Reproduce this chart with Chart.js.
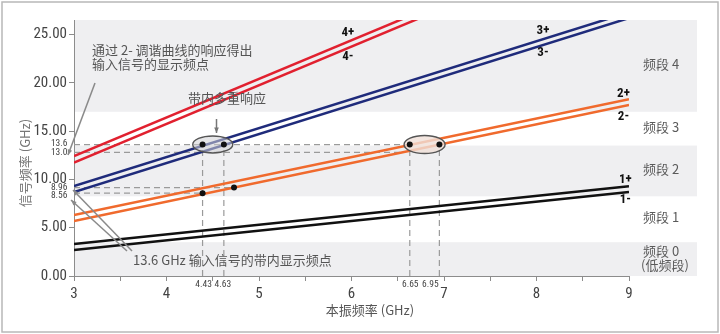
<!DOCTYPE html>
<html>
<head>
<meta charset="utf-8">
<script src="https://cdn.jsdelivr.net/npm/chart.js@4/dist/chart.umd.min.js"></script>
<style>
  html, body { margin: 0; padding: 0; background: #fff; }
  #wrap { width: 720px; height: 334px; }
</style>
</head>
<body>
<div id="wrap"><canvas id="tuneChart" width="720" height="334"></canvas></div>
<script>
// LO range (GHz) and tuning curve values at both ends
const loStart = 3;
const loEnd = 9;
const curveLabels = ["1+", "1-", "2+", "2-", "3+", "3-", "4+", "4-"];
const curveAtStart = [3.3, 2.7, 6.3, 5.7, 9.3, 8.7, 12.4, 11.75];
const curveAtEnd = [9.3, 8.7, 18.3, 17.7, 27.3, 26.7, 36.4, 35.75];
const curveColors = ["#111111", "#111111", "#f06a2d", "#f06a2d", "#1f2b7b", "#1f2b7b", "#e1202f", "#e1202f"];

// frequency bands (GHz)
const bandNames = ["频段 0", "频段 1", "频段 2", "频段 3", "频段 4"];
const bandLow = [0, 3.5, 8.25, 13.5, 17];
const bandHigh = [3.5, 8.25, 13.5, 17, 26.5];
const bandShaded = [true, false, true, false, true];

// marked responses
const dotX = [4.39, 4.62, 4.39, 4.73, 6.63, 6.95];
const dotY = [13.6, 13.6, 8.57, 9.15, 13.6, 13.6];

// dashed guide lines
const guideY = [13.6, 12.8, 9.15, 8.57];
const guideYEnd = [6.63, 6.55, 4.73, 4.39];
const guideYText = ["13.6", "13.0", "8.96", "8.56"];
const guideX = [4.39, 4.62, 6.63, 6.95];
const guideXTop = 13.6;
const guideXText = ["4.43", "4.63", "6.65", "6.95"];

const yTicks = [0, 5, 10, 15, 20, 25];

const NUM = "'Liberation Sans Narrow', 'Roboto Condensed', Roboto, sans-serif";
const CJK = "'Noto Sans CJK SC', sans-serif";

//#region datasets
const datasets = [];

// dots on top (lowest order)
datasets.push({
  data: dotX.map((x, i) => ({ x: x, y: dotY[i] })),
  showLine: false,
  pointRadius: 3,
  pointBackgroundColor: "#111",
  pointBorderWidth: 0,
  order: 0
});

curveLabels.forEach((name, i) => {
  datasets.push({
    label: name,
    data: [{ x: loStart, y: curveAtStart[i] }, { x: loEnd, y: curveAtEnd[i] }],
    showLine: true,
    borderColor: curveColors[i],
    borderWidth: 2.5,
    pointRadius: 0,
    order: 1
  });
});

const dashStyle = { showLine: true, borderColor: "#9a9a9a", borderWidth: 1.2, borderDash: [6, 4], pointRadius: 0, order: 2 };
guideY.forEach((v, i) => {
  datasets.push(Object.assign({ data: [{ x: loStart, y: v }, { x: guideYEnd[i], y: v }] }, dashStyle));
});
guideX.forEach((v) => {
  datasets.push(Object.assign({ data: [{ x: v, y: 0 }, { x: v, y: guideXTop }] }, dashStyle));
});
//#endregion

function arrow(ctx, x1, y1, x2, y2, size) {
  ctx.beginPath();
  ctx.moveTo(x1, y1);
  ctx.lineTo(x2, y2);
  ctx.stroke();
  const ang = Math.atan2(y2 - y1, x2 - x1);
  ctx.beginPath();
  ctx.moveTo(x2, y2);
  ctx.lineTo(x2 - size * Math.cos(ang - 0.4), y2 - size * Math.sin(ang - 0.4));
  ctx.lineTo(x2 - size * Math.cos(ang + 0.4), y2 - size * Math.sin(ang + 0.4));
  ctx.closePath();
  ctx.fill();
}

//#region plugin: bands, ellipses, texts
const annotate = {
  id: "annotate",
  beforeDraw(chart) {
    const { ctx, chartArea: a, scales: { y } } = chart;
    ctx.save();
    ctx.fillStyle = "#fff";
    ctx.fillRect(0, 0, chart.width, chart.height);
    ctx.fillStyle = "#efeff1";
    bandLow.forEach((lo, i) => {
      if (!bandShaded[i]) return;
      const top = y.getPixelForValue(bandHigh[i]);
      const bot = y.getPixelForValue(lo);
      ctx.fillRect(a.left, top, 697 - a.left, bot - top);
    });
    ctx.strokeStyle = "#b8b8b8";
    ctx.lineWidth = 1.5;
    ctx.strokeRect(2, 2, chart.width - 4, chart.height - 4);
    ctx.restore();
  },
  beforeDatasetDraw(chart, args) {
    if (args.index !== 0) return;
    const { ctx, scales: { x, y } } = chart;
    ctx.save();
    const ells = [
      { cx: x.getPixelForValue(4.5), cy: y.getPixelForValue(13.62), rx: 20, ry: 8.5, fill: "rgba(210,210,214,0.55)" },
      { cx: x.getPixelForValue(6.79), cy: y.getPixelForValue(13.62), rx: 20.5, ry: 9, fill: "rgba(240,224,216,0.8)" }
    ];
    ells.forEach((e) => {
      ctx.beginPath();
      ctx.ellipse(e.cx, e.cy, e.rx, e.ry, 0, 0, Math.PI * 2);
      ctx.fillStyle = e.fill;
      ctx.fill();
      ctx.strokeStyle = "#555";
      ctx.lineWidth = 1.4;
      ctx.stroke();
    });
    ctx.restore();
  },
  afterDraw(chart) {
    const { ctx, chartArea: a, scales: { x, y } } = chart;
    ctx.save();

    // extra axis labels
    ctx.fillStyle = "#444";
    ctx.font = "9.5px " + NUM;
    ctx.textAlign = "right";
    ctx.textBaseline = "middle";
    const yOff = [-0.5, 0.6, 0, 2.5];
    guideY.forEach((v, i) => {
      ctx.fillText(guideYText[i], a.left - 6.5, y.getPixelForValue(v) + yOff[i]);
    });
    ctx.textAlign = "center";
    const xOff = [1, -1, 0.5, -9];
    guideX.forEach((v, i) => {
      ctx.fillText(guideXText[i], x.getPixelForValue(v) + xOff[i], a.bottom + 9);
    });

    // curve labels
    ctx.fillStyle = "#111";
    ctx.font = "bold 13px " + NUM;
    const curveLabelPos = [[8.96, 9.96], [8.96, 7.88], [8.94, 18.85], [8.94, 16.52], [8.07, 25.34], [8.07, 23.13], [5.96, 25.2], [5.96, 22.65]];
    curveLabels.forEach((name, i) => {
      ctx.fillText(name, x.getPixelForValue(curveLabelPos[i][0]), y.getPixelForValue(curveLabelPos[i][1]));
    });

    // band labels
    ctx.fillStyle = "#5a5a5a";
    ctx.font = "13px " + CJK;
    ctx.textAlign = "left";
    bandNames.forEach((name, i) => {
      const mid = y.getPixelForValue((bandLow[i] + bandHigh[i]) / 2) - 2;
      if (i === 0) {
        ctx.fillText(name, 643, mid - 6);
        ctx.fillText("(低频段)", 641, mid + 8);
      } else {
        ctx.fillText(name, 643, mid);
      }
    });

    // annotations
    ctx.fillStyle = "#555";
    ctx.fillText("通过 2- 调谐曲线的响应得出", 92, 50);
    ctx.fillText("输入信号的显示频点", 92, 64);
    ctx.textAlign = "center";
    ctx.fillText("带内多重响应", 227, 98);
    ctx.textAlign = "left";
    ctx.fillText("13.6 GHz 输入信号的带内显示频点", 133, 260);

    ctx.strokeStyle = "#8a8a8a";
    ctx.fillStyle = "#8a8a8a";
    ctx.lineWidth = 1.5;
    arrow(ctx, 95, 83, 68, 155, 6);
    arrow(ctx, 132, 251, 73, 190, 6);
    arrow(ctx, 127, 251, 71, 200, 6);
    ctx.strokeStyle = "#777";
    ctx.fillStyle = "#777";
    arrow(ctx, 216.5, 119, 216.5, 133, 6);

    // axis titles
    ctx.fillStyle = "#555";
    ctx.textAlign = "center";
    ctx.fillText("本振频率 (GHz)", 370, 310);
    ctx.save();
    ctx.translate(25, 163);
    ctx.rotate(-Math.PI / 2);
    ctx.fillStyle = "#777";
    ctx.fillText("信号频率 (GHz)", 0, 0);
    ctx.restore();

    ctx.restore();
  }
};
//#endregion

document.addEventListener("DOMContentLoaded", function () {
  const ctx = document.getElementById("tuneChart").getContext("2d");

  const tuneChart = new Chart(ctx, {
    type: "scatter",
    data: { datasets: datasets },
    options: {
      responsive: false,
      animation: false,
      layout: { padding: { left: 0, right: 91, top: 20, bottom: 0 } },
      plugins: {
        legend: { display: false },
        tooltip: { enabled: false }
      },
      scales: {
        x: {
          type: "linear",
          min: loStart,
          max: loEnd,
          afterFit(s) { s.height = 58; },
          border: { color: "#8c8c8c", width: 1 },
          grid: { drawOnChartArea: false, tickLength: 5, color: "#8c8c8c" },
          ticks: {
            stepSize: 0.5,
            autoSkip: false,
            maxRotation: 0,
            padding: 4,
            color: "#444",
            font: { family: NUM, size: 15 },
            callback: (v) => Number.isInteger(v) ? String(v) : ""
          }
        },
        y: {
          min: 0,
          max: 26.5,
          afterFit(s) { s.width = 74; },
          afterBuildTicks(s) { s.ticks = yTicks.map((v) => ({ value: v })); },
          border: { color: "#8c8c8c", width: 1 },
          grid: { drawOnChartArea: false, tickLength: 5, color: "#8c8c8c" },
          ticks: {
            padding: 2,
            color: "#444",
            font: { family: NUM, size: 15 },
            callback: (v) => v.toFixed(2)
          }
        }
      }
    },
    plugins: [annotate]
  });
});
</script>
</body>
</html>
